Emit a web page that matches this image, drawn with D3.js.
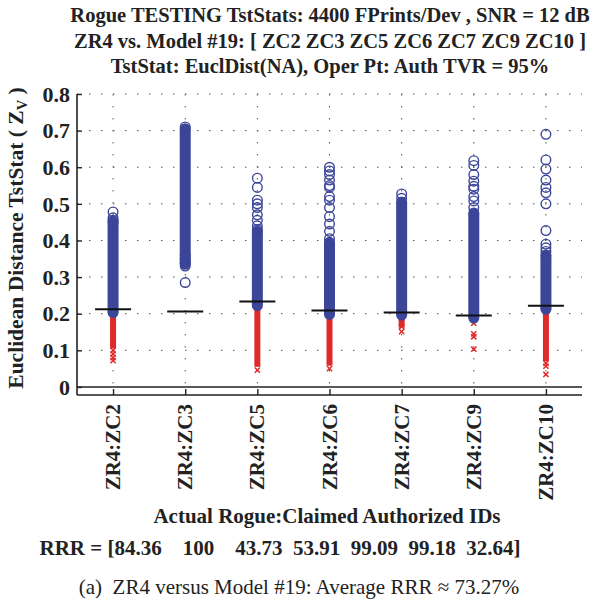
<!DOCTYPE html>
<html>
<head>
<meta charset="utf-8">
<script src="https://cdn.jsdelivr.net/npm/d3@7"></script>
<style>
  body { margin: 0; background: #fff; }
  text { font-family: "Liberation Serif", "Times New Roman", serif; }
</style>
</head>
<body>
<svg width="595" height="601"></svg>
<script>
// categories and values
var cats = ["ZR4:ZC2", "ZR4:ZC3", "ZR4:ZC5", "ZR4:ZC6", "ZR4:ZC7", "ZR4:ZC9", "ZR4:ZC10"];
var thresh = [0.212, 0.206, 0.233, 0.209, 0.203, 0.195, 0.222];
// dense blue column (bottom / top)
var blueLo = [0.203, 0.335, 0.222, 0.198, 0.196, 0.188, 0.212];
var blueHi = [0.452, 0.705, 0.425, 0.395, 0.505, 0.475, 0.36];
// separate blue circles
var blueOut = [
  [0.478, 0.462, 0.455],
  [0.285, 0.33, 0.34, 0.35, 0.36, 0.71],
  [0.57, 0.545, 0.51, 0.50, 0.49, 0.47, 0.455, 0.44, 0.43],
  [0.6, 0.59, 0.58, 0.565, 0.55, 0.545, 0.52, 0.51, 0.49, 0.465, 0.445, 0.425, 0.405],
  [0.527, 0.515],
  [0.618, 0.605, 0.58, 0.562, 0.548, 0.54, 0.52, 0.508, 0.49],
  [0.69, 0.62, 0.595, 0.565, 0.545, 0.53, 0.5, 0.427, 0.39, 0.38, 0.37]
];
// dense red column (top / bottom)
var redHi = [0.2, null, 0.218, 0.196, 0.192, 0.186, 0.209];
var redLo = [0.105, null, 0.055, 0.058, 0.162, 0.18, 0.07];
// separate red crosses
var redOut = [
  [0.1, 0.09, 0.08, 0.072],
  [],
  [0.046],
  [0.05],
  [0.175, 0.165, 0.151],
  [0.174, 0.145, 0.137, 0.103],
  [0.065, 0.057, 0.034]
];
var rrr = ["84.36", "100", "43.73", "53.91", "99.09", "99.18", "32.64"];
var yTicks = [0, 0.1, 0.2, 0.3, 0.4, 0.5, 0.6, 0.7, 0.8];

var blue = "#3b4699", red = "#e02a2a";
var svg = d3.select("svg");
svg.append("rect").attr("width", 595).attr("height", 601).attr("fill", "#fff");

var x = d3.scalePoint().domain(cats).range([77, 582]).padding(0.5);
var y = d3.scaleLinear().domain([-0.022, 0.8]).range([395, 94]);

// grid (dotted)
svg.append("g").selectAll("line")
  .data(yTicks.filter(function(d) { return d > 0; }))
  .enter().append("line")
  .attr("x1", 77).attr("x2", 582)
  .attr("y1", function(d) { return y(d); }).attr("y2", function(d) { return y(d); })
  .attr("stroke", "#555").attr("stroke-width", 1).attr("stroke-dasharray", "1.5,10.5");
svg.append("g").selectAll("line")
  .data(cats)
  .enter().append("line")
  .attr("x1", function(d) { return x(d); }).attr("x2", function(d) { return x(d); })
  .attr("y1", y(0.8)).attr("y2", 395)
  .attr("stroke", "#555").attr("stroke-width", 1).attr("stroke-dasharray", "1.5,10.5");

// red columns + crosses
var g = svg.append("g");
cats.forEach(function(c, i) {
  var cx = x(c);
  if (redHi[i] != null) {
    g.append("rect")
      .attr("x", cx - 3).attr("width", 6)
      .attr("y", y(redHi[i])).attr("height", y(redLo[i]) - y(redHi[i]))
      .attr("fill", red);
  }
  redOut[i].forEach(function(v) {
    var s = 2.6;
    g.append("path")
      .attr("d", "M" + (cx - s) + "," + (y(v) - s) + "L" + (cx + s) + "," + (y(v) + s) +
                 "M" + (cx - s) + "," + (y(v) + s) + "L" + (cx + s) + "," + (y(v) - s))
      .attr("stroke", red).attr("stroke-width", 1.5).attr("fill", "none");
  });
});

// blue columns + circles
cats.forEach(function(c, i) {
  var cx = x(c);
  g.append("rect")
    .attr("x", cx - 5.5).attr("width", 11)
    .attr("y", y(blueHi[i])).attr("height", y(blueLo[i]) - y(blueHi[i]))
    .attr("fill", blue);
  [blueLo[i], blueHi[i]].forEach(function(v) {
    g.append("circle").attr("cx", cx).attr("cy", y(v)).attr("r", 4.8)
      .attr("fill", blue).attr("stroke", blue).attr("stroke-width", 1.4);
  });
  blueOut[i].forEach(function(v) {
    g.append("circle").attr("cx", cx).attr("cy", y(v)).attr("r", 4.8)
      .attr("fill", "none").attr("stroke", blue).attr("stroke-width", 1.4);
  });
});

// threshold lines
svg.append("g").selectAll("line")
  .data(cats)
  .enter().append("line")
  .attr("x1", function(d) { return x(d) - 18; }).attr("x2", function(d) { return x(d) + 18; })
  .attr("y1", function(d, i) { return y(thresh[i]); }).attr("y2", function(d, i) { return y(thresh[i]); })
  .attr("stroke", "#111").attr("stroke-width", 2);

// zero line
svg.append("line").attr("x1", 77).attr("x2", 582).attr("y1", y(0)).attr("y2", y(0))
  .attr("stroke", "#222").attr("stroke-width", 1.6);

// axes
var yAxis = d3.axisRight(y).tickValues(yTicks).tickSize(5).tickFormat("");
svg.append("g").attr("transform", "translate(77,0)").call(yAxis)
  .call(function(a) { a.select(".domain").remove(); })
  .selectAll("line").attr("stroke", "#222").attr("stroke-width", 1.4);
svg.append("line").attr("x1", 77).attr("x2", 77).attr("y1", y(0.8)).attr("y2", 395)
  .attr("stroke", "#222").attr("stroke-width", 1.6);

var xAxis = d3.axisTop(x).tickSize(6).tickFormat("");
svg.append("g").attr("transform", "translate(0,395)").call(xAxis)
  .call(function(a) { a.select(".domain").remove(); })
  .selectAll("line").attr("stroke", "#222").attr("stroke-width", 1.4);
svg.append("line").attr("x1", 77).attr("x2", 582).attr("y1", 395).attr("y2", 395)
  .attr("stroke", "#222").attr("stroke-width", 1.6);

// y tick labels
svg.append("g").selectAll("text")
  .data(yTicks)
  .enter().append("text")
  .attr("x", 70).attr("y", function(d) { return y(d); }).attr("dy", "0.35em")
  .attr("text-anchor", "end").attr("font-size", 22).attr("font-weight", "bold")
  .attr("fill", "#222")
  .text(function(d) { return d === 0 ? "0" : d3.format(".1f")(d); });

// x tick labels
svg.append("g").selectAll("text")
  .data(cats)
  .enter().append("text")
  .attr("transform", function(d) { return "translate(" + (x(d) + 7) + ",404) rotate(-90)"; })
  .attr("text-anchor", "end").attr("font-size", 21).attr("font-weight", "bold")
  .attr("fill", "#222")
  .text(function(d) { return d; });

// y title
var yt = svg.append("text")
  .attr("transform", "translate(23,238) rotate(-90)")
  .attr("text-anchor", "middle").attr("font-size", 21.5).attr("font-weight", "bold")
  .attr("fill", "#222");
yt.append("tspan").text("Euclidean Distance TstStat ( Z");
yt.append("tspan").attr("font-size", 14.5).attr("dy", 4).text("V");
yt.append("tspan").attr("dy", -4).text(" )");

// titles
var titles = [
  "Rogue TESTING TstStats: 4400 FPrints/Dev , SNR = 12 dB",
  "ZR4 vs. Model #19: [ ZC2 ZC3 ZC5 ZC6 ZC7 ZC9 ZC10 ]",
  "TstStat: EuclDist(NA), Oper Pt: Auth TVR = 95%"
];
svg.append("g").selectAll("text")
  .data(titles)
  .enter().append("text")
  .attr("x", 330).attr("y", function(d, i) { return 22 + i * 25.5; })
  .attr("text-anchor", "middle").attr("font-size", 20.5).attr("font-weight", "bold")
  .attr("fill", "#222")
  .text(function(d) { return d; });

svg.append("text").attr("x", 327).attr("y", 523)
  .attr("text-anchor", "middle").attr("font-size", 21).attr("font-weight", "bold")
  .attr("fill", "#222")
  .text("Actual Rogue:Claimed Authorized IDs");

svg.append("text").attr("x", 280).attr("y", 555)
  .attr("text-anchor", "middle").attr("font-size", 21).attr("font-weight", "bold")
  .attr("fill", "#222").style("white-space", "pre")
  .text("RRR = [" + rrr[0] + "    " + rrr[1] + "    " + rrr.slice(2).join("  ") + "]");

svg.append("text").attr("x", 299).attr("y", 594)
  .attr("text-anchor", "middle").attr("font-size", 21)
  .attr("fill", "#222").style("white-space", "pre")
  .text("(a)  ZR4 versus Model #19: Average RRR \u2248 73.27%");
</script>
</body>
</html>
